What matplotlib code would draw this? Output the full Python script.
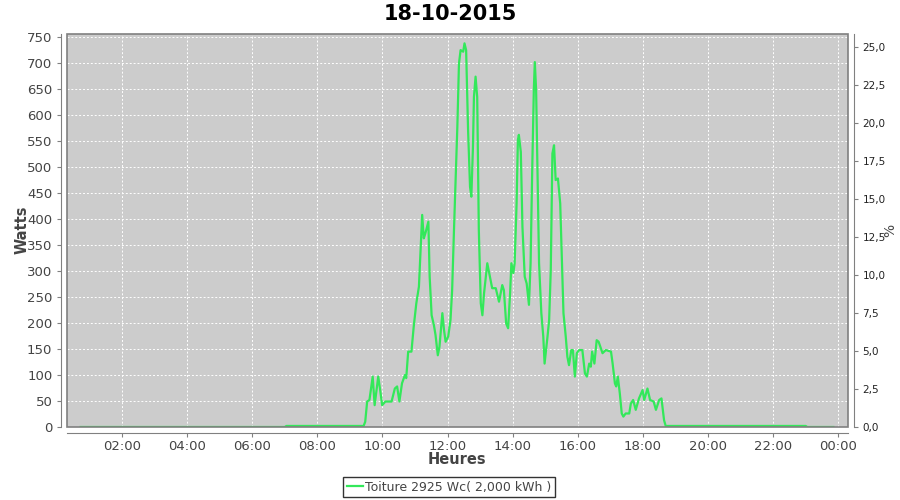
import numpy as np
import matplotlib.pyplot as plt
from matplotlib.patches import Rectangle
from matplotlib.ticker import FuncFormatter, MultipleLocator

title = "18-10-2015"
series_name = "Toiture 2925 Wc( 2,000 kWh )"
peak_power = 2925  # Wc, right axis is % of it

# time in hours, power in watts
hours = [0.73, 7.0, 7.05, 9.42, 9.47, 9.53, 9.60, 9.70, 9.76, 9.87, 9.93, 9.99,
         10.09, 10.28, 10.38, 10.45, 10.52, 10.60, 10.69, 10.73, 10.79, 10.89,
         10.96, 11.04, 11.12, 11.22, 11.27, 11.32, 11.41, 11.45, 11.51, 11.58,
         11.63, 11.70, 11.75, 11.84, 11.89, 11.94, 12.02, 12.09, 12.14, 12.20,
         12.30, 12.35, 12.40, 12.48, 12.52, 12.57, 12.63, 12.69, 12.73, 12.78,
         12.81, 12.86, 12.91, 12.96, 13.02, 13.07, 13.12, 13.22, 13.30, 13.37,
         13.48, 13.58, 13.68, 13.73, 13.80, 13.86, 13.92, 13.96, 14.02, 14.06,
         14.12, 14.16, 14.19, 14.25, 14.30, 14.37, 14.43, 14.50, 14.55, 14.60,
         14.65, 14.68, 14.72, 14.81, 14.88, 14.94, 14.98, 15.07, 15.12, 15.17,
         15.22, 15.27, 15.32, 15.39, 15.46, 15.50, 15.56, 15.63, 15.68, 15.73,
         15.80, 15.85, 15.91, 15.97, 16.04, 16.14, 16.22, 16.28, 16.35, 16.40,
         16.44, 16.51, 16.58, 16.64, 16.76, 16.86, 17.02, 17.07, 17.14, 17.18,
         17.23, 17.29, 17.35, 17.40, 17.47, 17.58, 17.63, 17.70, 17.78, 17.88,
         17.99, 18.04, 18.14, 18.22, 18.33, 18.40, 18.50, 18.57, 18.65, 18.71,
         18.75, 23.0, 23.05, 23.85]
watts = [0, 0, 2, 2, 10, 49, 52, 97, 42, 97, 71, 42,
         49, 49, 74, 78, 49, 84, 100, 94, 145, 145,
         193, 238, 270, 408, 363, 373, 395, 289, 215, 196,
         177, 138, 154, 219, 187, 164, 174, 206, 263, 385,
         577, 699, 725, 722, 738, 725, 571, 462, 443, 539,
         635, 674, 635, 379, 238, 215, 257, 315, 289, 267,
         267, 241, 273, 263, 199, 190, 257, 315, 296, 315,
         430, 552, 562, 529, 385, 289, 276, 235, 315, 494,
         650, 702, 648, 315, 219, 174, 122, 174, 206, 302,
         526, 542, 475, 478, 430, 347, 219, 174, 135, 119,
         148, 148, 97, 142, 148, 148, 103, 97, 122, 116,
         145, 122, 167, 164, 142, 148, 145, 122, 84, 78,
         97, 65, 26, 20, 26, 26, 45, 52, 33, 55,
         71, 52, 74, 52, 49, 33, 52, 55, 13, 0,
         2, 2, 0, 0]

tick_hours = [2, 4, 6, 8, 10, 12, 14, 16, 18, 20, 22, 24]
tick_labels = ["02:00", "04:00", "06:00", "08:00", "10:00", "12:00",
               "14:00", "16:00", "18:00", "20:00", "22:00", "00:00"]

txt = "#444444"
fig = plt.figure(figsize=(9, 5), dpi=100)
ax = fig.add_axes([67/900, 1-427/500, (848-67)/900, (427-34)/500])
ax.set_facecolor("#cccccc")

ax.plot(hours, watts, color="#33e85a", lw=1.6, label=series_name)

ax.set_xlim(0.31, 24.30)
ax.set_ylim(0, 756)
ax.set_xticks(tick_hours)
ax.set_xticklabels(tick_labels)
ax.yaxis.set_major_locator(MultipleLocator(50))
ax.grid(True, color="white", ls=(0, (2, 2)), lw=0.7)

for s in ax.spines.values():
    s.set_visible(False)
ax.spines["left"].set_visible(True)
ax.spines["bottom"].set_visible(True)
ax.spines["left"].set_position(("outward", 4))
ax.spines["bottom"].set_position(("outward", 4))
ax.spines["left"].set_color("#808080")
ax.spines["bottom"].set_color("#808080")
ax.add_patch(Rectangle((0, 0), 1, 1, transform=ax.transAxes, fill=False,
                       ec="#808080", lw=1.2, clip_on=False, zorder=5))
ax.tick_params(colors=txt, labelsize=9.5, length=3, color="#808080")
ax.tick_params(axis="x", pad=2)

ax2 = ax.twinx()
ax2.set_ylim(0, 756/peak_power*100)
ax2.yaxis.set_major_locator(MultipleLocator(2.5))
ax2.yaxis.set_major_formatter(FuncFormatter(lambda v, p: f"{v:.1f}".replace(".", ",")))
for s in ax2.spines.values():
    s.set_visible(False)
ax2.spines["right"].set_visible(True)
ax2.spines["right"].set_position(("outward", 4))
ax2.spines["right"].set_color("#808080")
ax2.tick_params(colors="#222222", labelsize=7.5, length=3, color="#808080")

fig.text(890/900, 1-230/500, "%", color=txt, fontsize=10, rotation=90,
         ha="center", va="center")
fig.text(22/900, 1-230/500, "Watts", color=txt, fontsize=10.5, fontweight="bold",
         rotation=90, ha="center", va="center")
fig.text(457/900, 1-460/500, "Heures", color=txt, fontsize=10.5, fontweight="bold",
         ha="center", va="center")
fig.text(450/900, 1-14/500, title, fontsize=15, fontweight="bold",
         ha="center", va="center")

leg = fig.legend(loc="center", bbox_to_anchor=(449/900, 1-487/500), fontsize=9,
                 frameon=True, fancybox=False, handlelength=1.3, handletextpad=0.2,
                 borderpad=0.3, labelcolor=txt)
leg.get_frame().set_edgecolor("black")
leg.get_frame().set_linewidth(1.0)

fig.savefig("out.png", dpi=100)
